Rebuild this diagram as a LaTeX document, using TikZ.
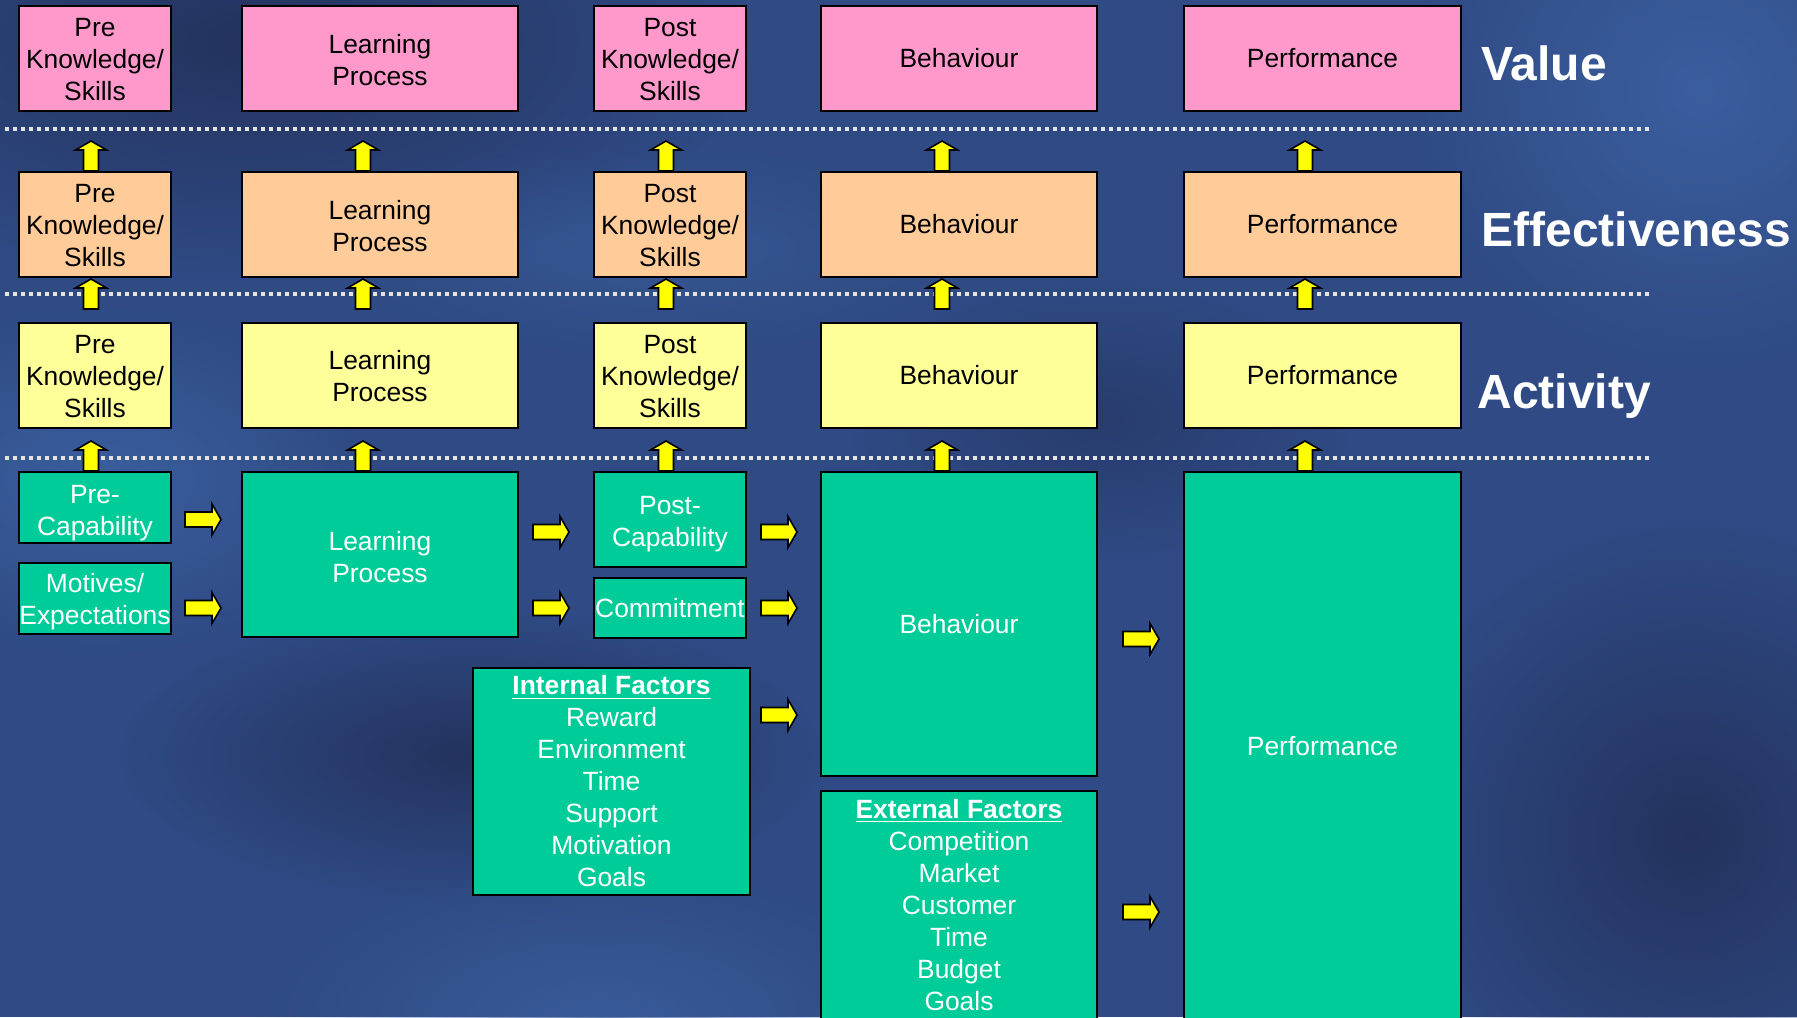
\documentclass[tikz,border=0pt]{standalone}
\usepackage{fontspec}
\setmainfont{Liberation Sans}
\usetikzlibrary{calc,fadings}
\usepackage{xcolor}
\definecolor{kpPink}{HTML}{FF99CC}
\definecolor{kpPeach}{HTML}{FFCC99}
\definecolor{kpLemon}{HTML}{FFFF99}
\definecolor{kpGreen}{HTML}{00CC99}
\definecolor{kpArrow}{HTML}{FFFF00}
\definecolor{kpNavy}{HTML}{2F4A84}
\definecolor{kpNavyDk}{HTML}{24335E}
\definecolor{kpNavyLt}{HTML}{3B5E9E}
\definecolor{kpDots}{HTML}{E4E4E4}
\tikzfading[name=kpblob, inner color=transparent!0, outer color=transparent!100]
\newcommand{\kpdn}[1]{\rule{0pt}{#1}}
\newcommand{\kparrow}[3]{%
  \begin{scope}[shift={#1}, rotate=#2]
    \filldraw[fill=kpArrow, draw=black, line width=0.8pt, line join=miter]
      (0,-7.5) -- ({#3-9},-7.5) -- ({#3-9},-15.5) -- (#3,0) -- ({#3-9},15.5) -- ({#3-9},7.5) -- (0,7.5) -- cycle;
  \end{scope}}

\begin{document}
\begin{tikzpicture}[x=0.5pt, y=-0.5pt,
  kbox/.style={draw=black, line width=1pt, inner sep=0pt, align=center, text=black,
    minimum height=52.5pt, font=\fontsize{13.2}{16}\selectfont},
  gbox/.style={kbox, fill=kpGreen, text=white},
  lbl/.style={anchor=base west, inner sep=0pt, text=white, font=\fontsize{24}{28}\selectfont\bfseries},
  dots/.style={kpDots, line width=1.75pt, dash pattern=on 1.75pt off 2.25pt}]
\useasboundingbox (0,0) rectangle (1797,1017);

% background
\fill[kpNavy] (0,0) rectangle (1797,1017);
\fill[kpNavyDk, path fading=kpblob] (-250,-200) rectangle (750,280);
\fill[kpNavyDk, path fading=kpblob] (120,610) rectangle (820,900);
\fill[kpNavyDk, path fading=kpblob] (1380,520) rectangle (2000,1150);
\fill[kpNavyDk, path fading=kpblob, opacity=0.6] (850,280) rectangle (1350,560);
\fill[kpNavyLt, path fading=kpblob] (1400,-200) rectangle (2000,380);
\fill[kpNavyLt, path fading=kpblob] (-180,300) rectangle (380,660);
\fill[kpNavyLt, path fading=kpblob, opacity=0.8] (250,860) rectangle (950,1180);
\fill[kpNavyLt, path fading=kpblob, opacity=0.6] (300,140) rectangle (1000,360);

\foreach \yy in {129,294,458}{\draw[dots] (5,\yy) -- (1649,\yy);}

% three upper levels
\foreach \r/\yy/\cc in {v/58.5/kpPink, e/224.5/kpPeach, a/375/kpLemon}{
  \node[kbox, fill=\cc, minimum width=76pt] (\r1) at (95,\yy) {\kpdn{10.5pt}Pre\\Knowledge/\\Skills};
  \node[kbox, fill=\cc, minimum width=138pt] (\r2) at (380,\yy) {\kpdn{11pt}Learning\\Process};
  \node[kbox, fill=\cc, minimum width=76pt] (\r3) at (670,\yy) {\kpdn{10.5pt}Post\\Knowledge/\\Skills};
  \node[kbox, fill=\cc, minimum width=138pt] (\r4) at (959,\yy) {Behaviour};
  \node[kbox, fill=\cc, minimum width=138.5pt] (\r5) at (1322.5,\yy) {Performance};
}
\node[lbl] (lVal) at (1481,80) {Value};
\node[lbl] (lEff) at (1481,246) {Effectiveness};
\node[lbl] (lAct) at (1477,408) {Activity};

% capability level
\node[gbox, minimum width=76pt, minimum height=35.5pt] (gPre) at (95,507.5) {\kpdn{15pt}Pre-\\Capability};
\node[gbox, minimum width=76pt, minimum height=35.5pt] (gMot) at (95,598.5) {\kpdn{13pt}Motives/\\Expectations};
\node[gbox, minimum width=138pt, minimum height=82.5pt] (gLrn) at (380,554.5) {\kpdn{12pt}Learning\\Process};
\node[gbox, minimum width=76pt, minimum height=47.5pt] (gPost) at (670,519.5) {\kpdn{14pt}Post-\\Capability};
\node[gbox, minimum width=76pt, minimum height=30pt] (gCom) at (670,608) {Commitment};
\node[gbox, minimum width=138.5pt, minimum height=113.5pt] (gInt) at (611.5,781.5)
  {\underline{\textbf{Internal Factors}}\\Reward\\Environment\\Time\\Support\\Motivation\\Goals};
\node[gbox, minimum width=138pt, minimum height=152pt] (gBeh) at (959,624) {Behaviour};
\node[gbox, minimum width=138pt, minimum height=114pt] (gExt) at (959,905)
  {\underline{\textbf{External Factors}}\\Competition\\Market\\Customer\\Time\\Budget\\Goals};
\node[gbox, minimum width=138.5pt, minimum height=274pt] (gPerf) at (1322.5,746) {Performance};

% arrows up
\foreach \n/\g/\dx in {1/gPre/-4, 2/gLrn/-17, 3/gPost/-4, 4/gBeh/-17, 5/gPerf/-17.5}{
  \kparrow{($(e\n.north)+(\dx,0)$)}{90}{30}
  \kparrow{($(e\n.south)+(\dx,31)$)}{90}{30}
  \kparrow{($(\g.north)+(\dx,0)$)}{90}{30}
}
% arrows right
\foreach \xx/\yy in {185/519.5, 185/608, 533/532, 533/608, 761/532, 761/608, 761/715, 1123/639, 1123/912}{
  \kparrow{(\xx,\yy)}{0}{36}
}
\end{tikzpicture}
\end{document}
